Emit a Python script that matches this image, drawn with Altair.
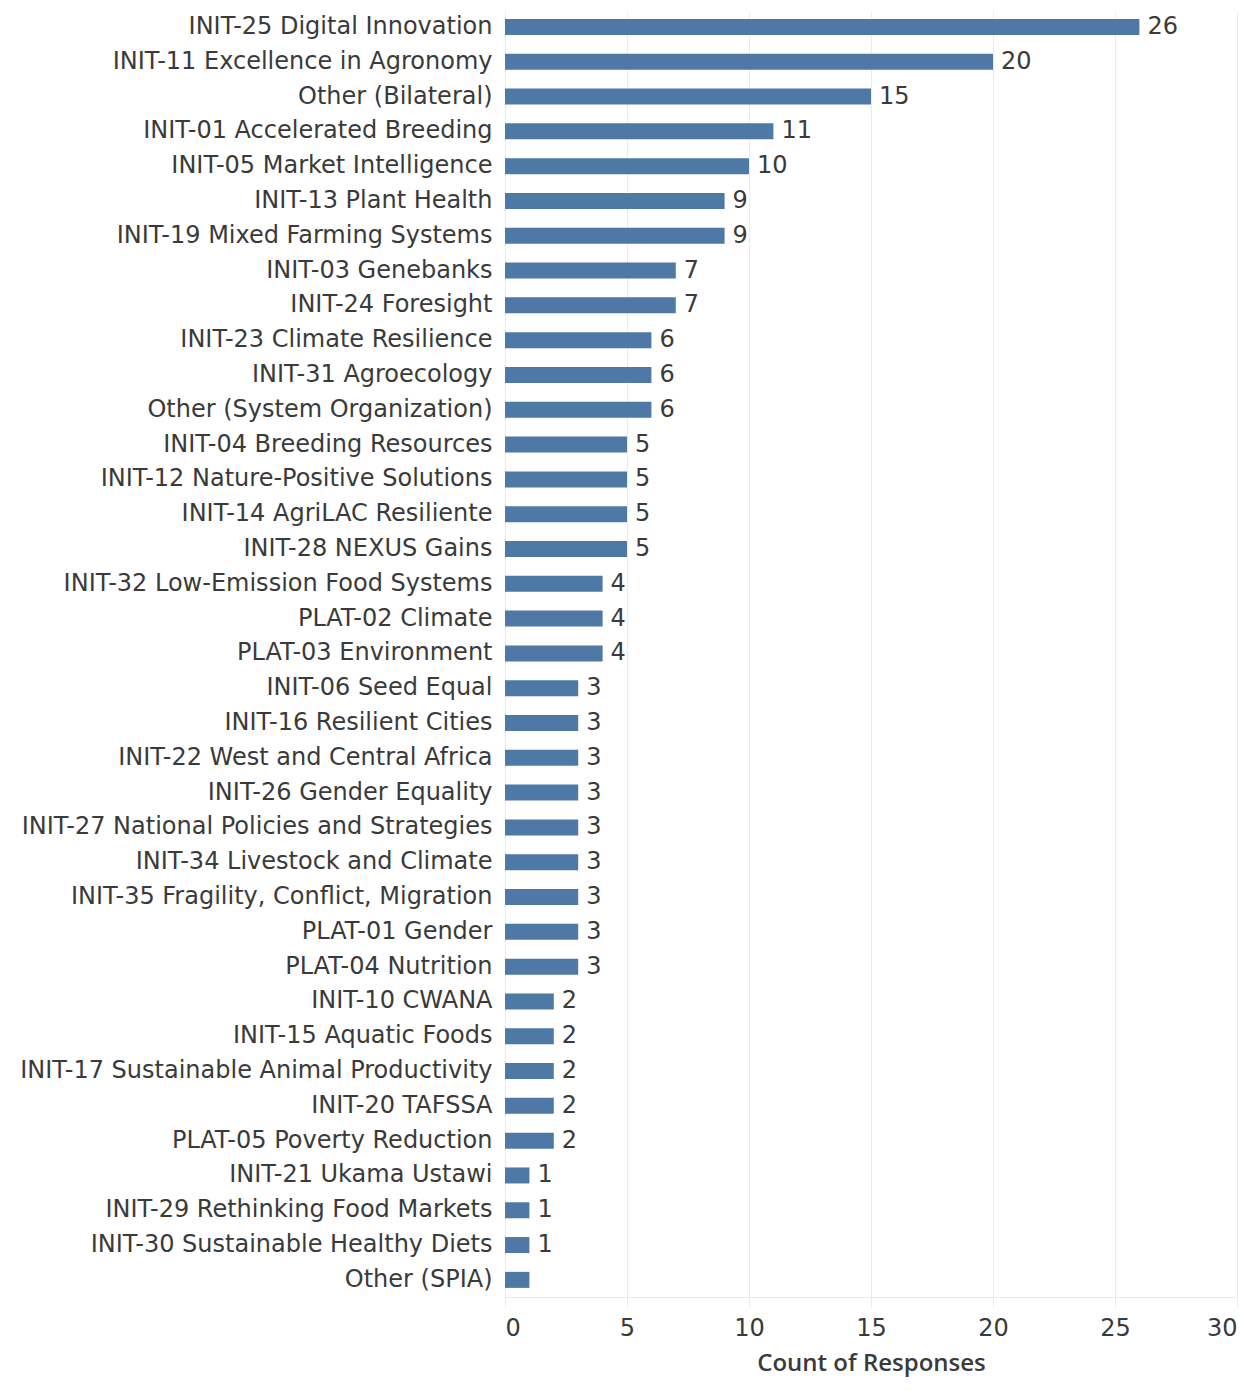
import altair as alt
import pandas as pd

categories = [
    "INIT-25 Digital Innovation", "INIT-11 Excellence in Agronomy", "Other (Bilateral)",
    "INIT-01 Accelerated Breeding", "INIT-05 Market Intelligence", "INIT-13 Plant Health",
    "INIT-19 Mixed Farming Systems", "INIT-03 Genebanks", "INIT-24 Foresight",
    "INIT-23 Climate Resilience", "INIT-31 Agroecology", "Other (System Organization)",
    "INIT-04 Breeding Resources", "INIT-12 Nature-Positive Solutions", "INIT-14 AgriLAC Resiliente",
    "INIT-28 NEXUS Gains", "INIT-32 Low-Emission Food Systems", "PLAT-02 Climate",
    "PLAT-03 Environment", "INIT-06 Seed Equal", "INIT-16 Resilient Cities",
    "INIT-22 West and Central Africa", "INIT-26 Gender Equality", "INIT-27 National Policies and Strategies",
    "INIT-34 Livestock and Climate", "INIT-35 Fragility, Conflict, Migration", "PLAT-01 Gender",
    "PLAT-04 Nutrition", "INIT-10 CWANA", "INIT-15 Aquatic Foods",
    "INIT-17 Sustainable Animal Productivity", "INIT-20 TAFSSA", "PLAT-05 Poverty Reduction",
    "INIT-21 Ukama Ustawi", "INIT-29 Rethinking Food Markets", "INIT-30 Sustainable Healthy Diets",
    "Other (SPIA)",
]
counts = [26, 20, 15, 11, 10, 9, 9, 7, 7, 6, 6, 6, 5, 5, 5, 5, 4, 4, 4,
          3, 3, 3, 3, 3, 3, 3, 3, 3, 2, 2, 2, 2, 2, 1, 1, 1, 1]
value_labels = [str(c) for c in counts[:-1]] + [""]
x_ticks = [0, 5, 10, 15, 20, 25, 30]

df = pd.DataFrame({"category": categories, "count": counts, "label": value_labels})

FONT = "DejaVu Sans"
GRID = "#ebebeb"
TEXT = "#3a3a3a"
FS = 24

base = alt.Chart(df)

bars = base.mark_bar(color="#4e79a7").encode(
    y=alt.Y("category:N", sort=categories, title=None,
            scale=alt.Scale(paddingInner=0.54, paddingOuter=0.245, align=0.465),
            axis=alt.Axis(ticks=False, labelPadding=13, labelFontSize=FS,
                          labelColor=TEXT, labelFont=FONT, labelLimit=700,
                          domain=True, domainColor=GRID, grid=False)),
    x=alt.X("count:Q", title="Count of Responses",
            scale=alt.Scale(domain=[0, 30], nice=False),
            axis=alt.Axis(values=x_ticks, grid=True, gridColor=GRID,
                          domainColor=GRID, tickColor=GRID, tickSize=10,
                          labelPadding=9, labelFontSize=FS, labelColor=TEXT,
                          labelFont=FONT, labelFlush=True,
                          titleFont="Open Sans", titleFontSize=24, titleFontWeight=600,
                          titleColor=TEXT, titlePadding=11)),
)

texts = base.mark_text(align="left", baseline="middle", dx=8, fontSize=FS,
                       font=FONT, color=TEXT).encode(
    y=alt.Y("category:N", sort=categories),
    x=alt.X("count:Q"),
    text="label:N",
)

chart = (bars + texts).properties(
    width=732, height=1286,
    autosize=alt.AutoSizeParams(type="none"),
    padding={"left": 497, "top": 3, "right": 1, "bottom": 81},
).configure_view(stroke=None)

chart.save("out.html", embed_options={"renderer": "svg", "actions": False})
